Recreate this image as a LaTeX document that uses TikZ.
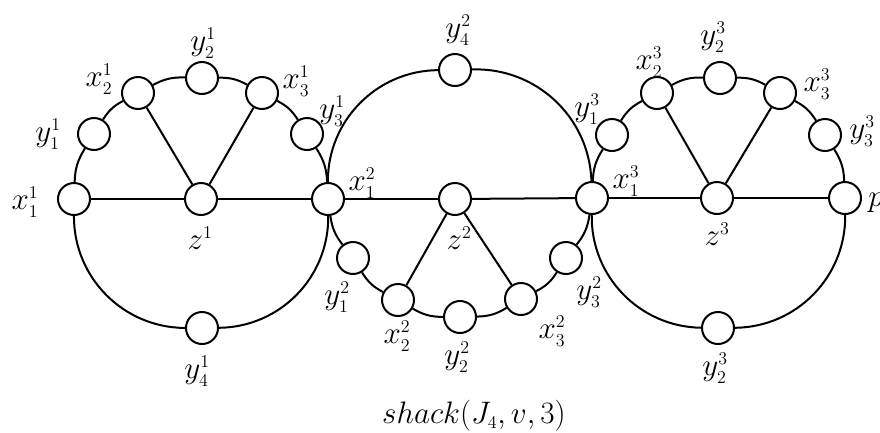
\documentclass[tikz,border=0pt]{standalone}
\DeclareMathSizes{24.88}{24.88}{14.4}{10}
\begin{document}
\begin{tikzpicture}[x=1pt,y=1pt,
  vtx/.style={circle,draw,fill=white,line width=2pt,minimum size=32pt,inner sep=0pt},
  lbl/.style={inner sep=0pt,font=\fontsize{24.88}{30}\selectfont,scale=1.25,transform shape},
  edge/.style={line width=2pt},
  arcL/.style={edge,bend left=15},
  arcR/.style={edge,bend right=15}]
\useasboundingbox (0,0) rectangle (880,-432);
% circle 1
\node[vtx] (x11) at (74,-199) {};
\node[vtx] (y11) at (94,-134) {};
\node[vtx] (x12) at (138,-93) {};
\node[vtx] (y12) at (202,-78) {};
\node[vtx] (x13) at (262,-93) {};
\node[vtx] (y13) at (307,-134) {};
\node[vtx] (z1)  at (201,-199) {};
\node[vtx] (y14) at (202,-328) {};
\node[vtx] (x21) at (328,-199) {};
% circle 2
\node[vtx] (y24) at (455,-70) {};
\node[vtx] (z2)  at (455,-199) {};
\node[vtx] (x31) at (592,-198) {};
\node[vtx] (y21) at (353,-258) {};
\node[vtx] (x22) at (398,-300) {};
\node[vtx] (y22) at (460,-317) {};
\node[vtx] (x23) at (521,-299) {};
\node[vtx] (y23) at (566,-258) {};
% circle 3
\node[vtx] (y31) at (612,-135) {};
\node[vtx] (x32) at (657,-93) {};
\node[vtx] (y32) at (720,-78) {};
\node[vtx] (x33) at (780,-93) {};
\node[vtx] (y33) at (825,-135) {};
\node[vtx] (p)   at (845,-198) {};
\node[vtx] (z3)  at (717,-198) {};
\node[vtx] (y34) at (718,-328) {};
% edges circle 1
\draw[arcL] (x11) to (y11);
\draw[arcL] (y11) to (x12);
\draw[arcL] (x12) to (y12);
\draw[arcL] (y12) to (x13);
\draw[arcL] (x13) to (y13);
\draw[arcL] (y13) to (x21);
\draw[edge,bend right=45] (x11) to (y14);
\draw[edge,bend right=45] (y14) to (x21);
\draw[edge] (x11) -- (z1);
\draw[edge] (z1) -- (x21);
\draw[edge] (z1) -- (x12);
\draw[edge] (z1) -- (x13);
% edges circle 2
\draw[edge,bend left=45] (x21) to (y24);
\draw[edge,bend left=45] (y24) to (x31);
\draw[edge] (x21) -- (z2);
\draw[edge] (z2) -- (x31);
\draw[arcR] (x21) to (y21);
\draw[arcR] (y21) to (x22);
\draw[arcR] (x22) to (y22);
\draw[arcR] (y22) to (x23);
\draw[arcR] (x23) to (y23);
\draw[arcR] (y23) to (x31);
\draw[edge] (z2) -- (x22);
\draw[edge] (z2) -- (x23);
% edges circle 3
\draw[arcL] (x31) to (y31);
\draw[arcL] (y31) to (x32);
\draw[arcL] (x32) to (y32);
\draw[arcL] (y32) to (x33);
\draw[arcL] (x33) to (y33);
\draw[arcL] (y33) to (p);
\draw[edge,bend right=45] (x31) to (y34);
\draw[edge,bend right=45] (y34) to (p);
\draw[edge] (x31) -- (z3);
\draw[edge] (z3) -- (p);
\draw[edge] (z3) -- (x32);
\draw[edge] (z3) -- (x33);
% labels
\node[lbl] (lx11) at (25,-202) {$x_1^1$};
\node[lbl] (ly11) at (48,-134) {$y_1^1$};
\node[lbl] (lx12) at (99,-79) {$x_2^1$};
\node[lbl] (ly12) at (203,-43) {$y_2^1$};
\node[lbl] (lx13) at (296,-81) {$x_3^1$};
\node[lbl] (ly13) at (332,-111) {$y_3^1$};
\node[lbl] (lz1)  at (200,-238) {$z^1$};
\node[lbl] (ly14) at (197,-371) {$y_4^1$};
\node[lbl] (lx21) at (362,-183) {$x_1^2$};
\node[lbl] (ly24) at (458,-30) {$y_4^2$};
\node[lbl] (lz2)  at (459,-238) {$z^2$};
\node[lbl] (ly21) at (337,-297) {$y_1^2$};
\node[lbl] (lx22) at (397,-336) {$x_2^2$};
\node[lbl] (ly22) at (457,-357) {$y_2^2$};
\node[lbl] (lx23) at (552,-331) {$x_3^2$};
\node[lbl] (ly23) at (589,-292) {$y_3^2$};
\node[lbl] (lx31) at (626,-181) {$x_1^3$};
\node[lbl] (ly31) at (587,-109) {$y_1^3$};
\node[lbl] (lx32) at (649,-62) {$x_2^3$};
\node[lbl] (ly32) at (713,-37) {$y_2^3$};
\node[lbl] (lx33) at (817,-84) {$x_3^3$};
\node[lbl] (ly33) at (862,-131) {$y_3^3$};
\node[lbl] (lz3)  at (717,-234) {$z^3$};
\node[lbl] (ly34) at (715,-368) {$y_2^3$};
\node[lbl,anchor=west] (lp) at (868,-203) {$p$};
\node[lbl] (cap) at (474,-416) {$shack(J_4,v,3)$};
\end{tikzpicture}
\end{document}
